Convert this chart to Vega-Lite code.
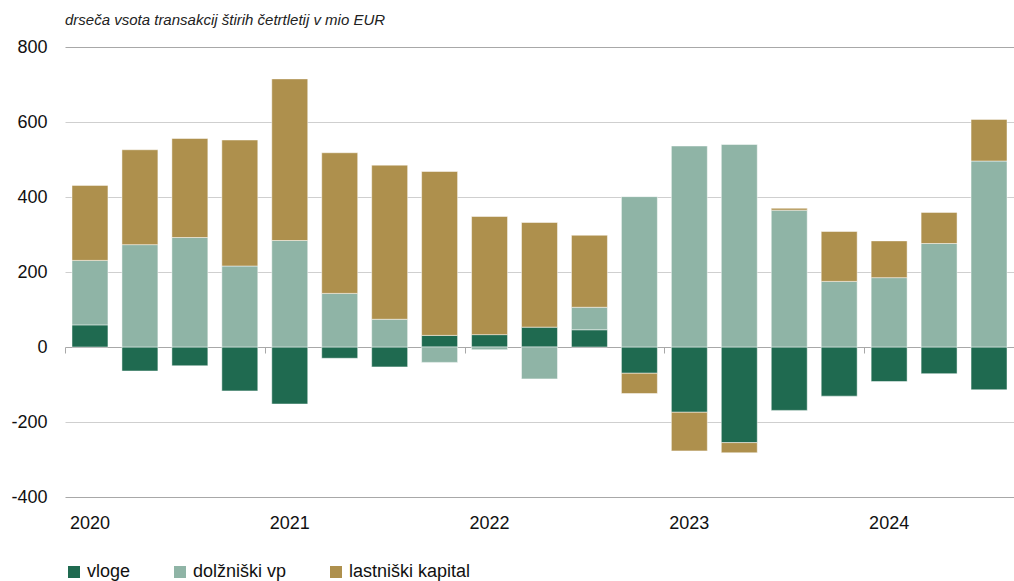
{
  "$schema": "https://vega.github.io/schema/vega-lite/v6.json",
  "width": 949,
  "height": 450,
  "autosize": "none",
  "padding": {"left": 65, "top": 47, "right": 0, "bottom": 84},
  "config": {
    "font": "Liberation Sans",
    "view": {"stroke": null},
    "axis": {"labelFont": "Liberation Sans", "labelFontSize": 18, "labelColor": "#111111"},
    "legend": {"labelFont": "Liberation Sans", "labelFontSize": 18, "labelColor": "#111111"}
  },
  "title": {
    "text": "drseča vsota transakcij štirih četrtletij v mio EUR",
    "font": "Liberation Sans",
    "fontStyle": "italic",
    "fontWeight": "normal",
    "fontSize": 15,
    "color": "#222222",
    "anchor": "start",
    "frame": "group",
    "offset": 10
  },
  "data": {
    "values": [
      {"q": "2020Q1", "vrsta": "vloge", "v": 59}, {"q": "2020Q1", "vrsta": "dolžniški vp", "v": 172}, {"q": "2020Q1", "vrsta": "lastniški kapital", "v": 200},
      {"q": "2020Q2", "vrsta": "vloge", "v": -64}, {"q": "2020Q2", "vrsta": "dolžniški vp", "v": 273}, {"q": "2020Q2", "vrsta": "lastniški kapital", "v": 253},
      {"q": "2020Q3", "vrsta": "vloge", "v": -50}, {"q": "2020Q3", "vrsta": "dolžniški vp", "v": 292}, {"q": "2020Q3", "vrsta": "lastniški kapital", "v": 264},
      {"q": "2020Q4", "vrsta": "vloge", "v": -117}, {"q": "2020Q4", "vrsta": "dolžniški vp", "v": 216}, {"q": "2020Q4", "vrsta": "lastniški kapital", "v": 336},
      {"q": "2021Q1", "vrsta": "vloge", "v": -152}, {"q": "2021Q1", "vrsta": "dolžniški vp", "v": 284}, {"q": "2021Q1", "vrsta": "lastniški kapital", "v": 431},
      {"q": "2021Q2", "vrsta": "vloge", "v": -30}, {"q": "2021Q2", "vrsta": "dolžniški vp", "v": 143}, {"q": "2021Q2", "vrsta": "lastniški kapital", "v": 375},
      {"q": "2021Q3", "vrsta": "vloge", "v": -53}, {"q": "2021Q3", "vrsta": "dolžniški vp", "v": 74}, {"q": "2021Q3", "vrsta": "lastniški kapital", "v": 411},
      {"q": "2021Q4", "vrsta": "vloge", "v": 31}, {"q": "2021Q4", "vrsta": "dolžniški vp", "v": -41}, {"q": "2021Q4", "vrsta": "lastniški kapital", "v": 437},
      {"q": "2022Q1", "vrsta": "vloge", "v": 33}, {"q": "2022Q1", "vrsta": "dolžniški vp", "v": -7}, {"q": "2022Q1", "vrsta": "lastniški kapital", "v": 315},
      {"q": "2022Q2", "vrsta": "vloge", "v": 53}, {"q": "2022Q2", "vrsta": "dolžniški vp", "v": -85}, {"q": "2022Q2", "vrsta": "lastniški kapital", "v": 279},
      {"q": "2022Q3", "vrsta": "vloge", "v": 46}, {"q": "2022Q3", "vrsta": "dolžniški vp", "v": 60}, {"q": "2022Q3", "vrsta": "lastniški kapital", "v": 192},
      {"q": "2022Q4", "vrsta": "vloge", "v": -70}, {"q": "2022Q4", "vrsta": "dolžniški vp", "v": 401}, {"q": "2022Q4", "vrsta": "lastniški kapital", "v": -54},
      {"q": "2023Q1", "vrsta": "vloge", "v": -174}, {"q": "2023Q1", "vrsta": "dolžniški vp", "v": 536}, {"q": "2023Q1", "vrsta": "lastniški kapital", "v": -103},
      {"q": "2023Q2", "vrsta": "vloge", "v": -255}, {"q": "2023Q2", "vrsta": "dolžniški vp", "v": 540}, {"q": "2023Q2", "vrsta": "lastniški kapital", "v": -27},
      {"q": "2023Q3", "vrsta": "vloge", "v": -169}, {"q": "2023Q3", "vrsta": "dolžniški vp", "v": 365}, {"q": "2023Q3", "vrsta": "lastniški kapital", "v": 5},
      {"q": "2023Q4", "vrsta": "vloge", "v": -131}, {"q": "2023Q4", "vrsta": "dolžniški vp", "v": 175}, {"q": "2023Q4", "vrsta": "lastniški kapital", "v": 133},
      {"q": "2024Q1", "vrsta": "vloge", "v": -92}, {"q": "2024Q1", "vrsta": "dolžniški vp", "v": 185}, {"q": "2024Q1", "vrsta": "lastniški kapital", "v": 98},
      {"q": "2024Q2", "vrsta": "vloge", "v": -71}, {"q": "2024Q2", "vrsta": "dolžniški vp", "v": 276}, {"q": "2024Q2", "vrsta": "lastniški kapital", "v": 83},
      {"q": "2024Q3", "vrsta": "vloge", "v": -114}, {"q": "2024Q3", "vrsta": "dolžniški vp", "v": 496}, {"q": "2024Q3", "vrsta": "lastniški kapital", "v": 111}
    ]
  },
  "resolve": {"axis": {"x": "independent"}},
  "layer": [
    {
      "transform": [
        {"calculate": "indexof(['vloge', 'dolžniški vp', 'lastniški kapital'], datum.vrsta)", "as": "red"}
      ],
      "mark": {"type": "bar", "stroke": "#ffffff", "strokeWidth": 0.8, "strokeOpacity": 0.6},
      "encoding": {
        "x": {
          "field": "q", "type": "ordinal", "sort": null,
          "scale": {"paddingInner": 0.28, "paddingOuter": 0.14},
          "axis": {
            "orient": "bottom", "title": null, "domain": false, "ticks": false, "grid": false,
            "values": ["2020Q1", "2021Q1", "2022Q1", "2023Q1", "2024Q1"],
            "labelExpr": "slice(datum.value, 0, 4)", "labelAngle": 0, "labelPadding": 17
          }
        },
        "y": {
          "field": "v", "type": "quantitative", "aggregate": "sum", "stack": "zero",
          "scale": {"domain": [-400, 800], "nice": false},
          "axis": {
            "title": null, "domain": false, "ticks": false, "labelPadding": 18,
            "values": [-400, -200, 0, 200, 400, 600, 800],
            "labelExpr": "'' + datum.value",
            "gridColor": {"condition": {"test": "datum.value === 0 || datum.value === 800 || datum.value === -400", "value": "#a8a8a8"}, "value": "#cfcfcf"},
            "gridWidth": 1.2
          }
        },
        "color": {
          "field": "vrsta", "type": "nominal",
          "sort": ["vloge", "dolžniški vp", "lastniški kapital"],
          "scale": {"domain": ["vloge", "dolžniški vp", "lastniški kapital"], "range": ["#1f6a50", "#8fb4a6", "#ae904d"]},
          "legend": {
            "title": null, "orient": "none", "direction": "horizontal",
            "legendX": 0, "legendY": 516,
            "symbolType": "square", "symbolSize": 144, "symbolStrokeWidth": 0,
            "labelOffset": 4, "columnPadding": 40
          }
        },
        "order": {"field": "red", "type": "quantitative", "sort": "ascending"}
      }
    },
    {
      "mark": {"type": "bar", "opacity": 0},
      "encoding": {
        "x": {
          "field": "q", "type": "ordinal", "sort": null,
          "axis": {
            "orient": "bottom", "offset": -150, "title": null, "domain": false, "labels": false, "grid": false,
            "values": ["2020Q1", "2021Q1", "2022Q1", "2023Q1", "2024Q1"],
            "ticks": true, "tickSize": 6, "tickColor": "#a8a8a8", "tickWidth": 1, "tickOffset": -25
          }
        }
      }
    }
  ]
}
